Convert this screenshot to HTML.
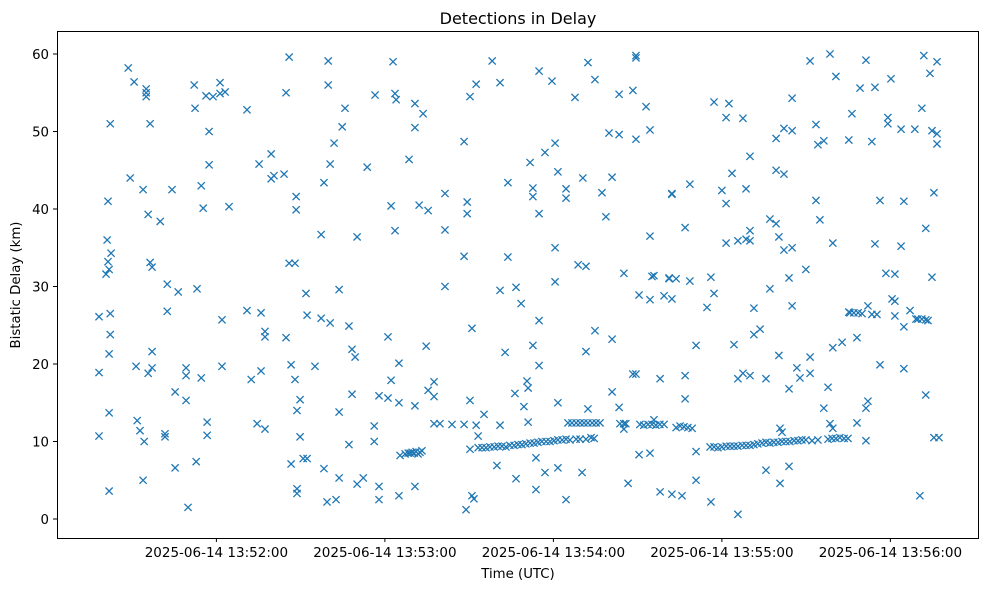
<!DOCTYPE html>
<html><head><meta charset="utf-8"><style>
html,body{margin:0;padding:0;background:#fff;}
svg{display:block;font-family:"DejaVu Sans","Liberation Sans",sans-serif;}
</style></head><body>
<svg id="chart" width="989" height="590" viewBox="0 0 989 590" xmlns="http://www.w3.org/2000/svg">
<rect width="989" height="590" fill="#fff"/>
<text x="518" y="24" text-anchor="middle" font-size="16">Detections in Delay</text>
<text x="518" y="578" text-anchor="middle" font-size="13.3">Time (UTC)</text>
<text x="20" y="285" text-anchor="middle" font-size="13.3" transform="rotate(-90 20 285)">Bistatic Delay (km)</text>
<g id="marks"></g>
<g id="xticks"></g>
<g id="yticks"></g>
<rect x="57.5" y="31.5" width="921" height="507" fill="none" stroke="#000" stroke-width="1"/>
</svg>
<script>
// time in seconds after 2025-06-14 13:49:56.3 UTC
const xTickSeconds = [123.7, 183.7, 243.7, 303.7, 363.7];
const xTickLabels = ["2025-06-14 13:52:00","2025-06-14 13:53:00","2025-06-14 13:54:00","2025-06-14 13:55:00","2025-06-14 13:56:00"];
const yTickValues = [0, 10, 20, 30, 40, 50, 60];
// [time seconds, delay km]
const detections = [
[81.9,18.9],[81.9,26.1],[81.9,10.7],
[84.4,31.6],[84.8,36],[85.1,41],[85.1,33.2],[85.5,32.2],[85.5,21.3],[85.5,13.7],[85.5,3.6],[85.9,26.5],[85.9,23.8],[86.2,34.3],[85.9,51],
[92.3,58.2],[93.0,44],[94.4,56.4],[95.1,19.7],[95.5,12.7],[96.5,11.4],[97.6,42.5],[97.6,5],[98.0,10],[98.7,55.5],[98.7,54.5],[98.7,55],[99.4,18.8],[99.4,39.3],[100.1,51],[100.1,33.1],[100.8,19.5],[100.8,21.6],[100.8,32.5],[103.7,38.4],[105.4,10.6],[105.4,11],[106.2,30.3],[106.2,26.8],[107.9,42.5],[109.0,6.6],[109.0,16.4],[110.1,29.3],[112.9,18.5],[112.9,19.5],[112.9,15.3],[113.6,1.5],[115.8,56],[116.1,53],[116.5,7.4],[116.8,29.7],[118.3,43],[118.3,18.2],[119.0,40.1],[120.0,54.6],[120.4,10.8],[120.4,12.5],[121.1,45.7],[121.1,50],[122.5,54.5],[125.0,56.3],[125.0,54.9],[125.7,19.7],[125.7,25.7],[126.8,55.1],[128.2,40.3],
[134.6,52.8],[134.6,26.9],[136.1,18],[138.2,12.3],[138.9,45.8],[139.6,19.1],[139.6,26.6],[141.0,11.6],[141.0,24.2],[141.0,23.5],[143.2,47.1],[143.2,43.9],[144.2,44.3],[147.8,44.5],[148.5,23.4],[148.5,55],[149.6,59.6],[149.6,33],[150.3,7.1],[150.3,19.9],[151.7,18],[151.7,33],[152.1,41.6],[152.1,39.9],[152.4,3.9],[152.4,3.3],[152.4,14],[153.5,10.6],[153.5,15.4],[154.6,7.8],[155.6,29.1],[156.0,7.8],[156.0,26.3],[158.8,19.7],[161.0,36.7],[161.0,25.9],[162.0,43.4],[162.0,6.5],[163.1,2.2],[163.5,59.1],[163.5,56],[164.2,45.8],[164.2,25.3],[165.6,48.5],[166.3,2.5],[167.4,29.6],[167.4,13.8],[167.4,5.3],[168.5,50.6],[169.5,53],[170.9,9.6],[170.9,24.9],[172.0,21.9],[172.0,16.1],[173.1,20.9],[173.8,36.4],[173.8,4.5],[176.0,5.3],[177.4,45.4],[179.9,12],[179.9,10],[180.2,54.7],[181.6,15.9],[181.6,2.5],[181.6,4.2],[184.8,15.6],[184.8,23.5],[185.9,40.4],[185.9,17.9],[186.6,59],[187.3,54.9],[187.3,37.2],[187.7,54.1],[188.7,20.1],[188.7,15],[188.7,3],[189.1,8.2],
[190.9,8.4],[192.0,8.5],[192.7,8.5],[193.4,8.6],[194.1,8.5],[194.8,8.7],[195.5,8.4],[196.2,8.6],[196.9,8.8],
[192.3,46.4],[194.4,53.6],[194.4,50.5],[194.4,14.6],[194.4,4.2],[195.9,40.5],[197.3,52.3],[198.4,22.3],[199.1,39.8],[199.1,16.6],[201.2,17.7],[201.2,15.8],[201.2,12.3],[203.3,12.3],[205.1,30],[205.1,42],[205.1,37.3],[207.6,12.2],[211.9,12.2],[211.9,48.7],[211.9,33.9],[212.6,1.2],[213.0,39.4],[213.0,40.9],[214.0,15.3],[214.0,54.5],[214.7,24.6],[214.7,3],[215.4,2.6],[216.2,12.1],[216.2,56.1],[216.9,10.7],
[214.0,9.0],[216.9,9.2],[218.3,9.2],[219.7,9.2],[221.1,9.3],[222.6,9.3],[224.0,9.4],[225.4,9.4],[226.8,9.3],[228.2,9.5],[229.7,9.5],[231.1,9.6],[232.5,9.6],[233.9,9.7],[235.4,9.8],[236.8,9.8],[238.2,9.9],[239.6,10.0],[241.1,10.0],[242.5,10.0],[243.9,10.1],[245.3,10.2],[246.8,10.2],[248.2,10.3],[249.6,10.2],[251.8,10.3],[253.2,10.3],[258.2,10.4],
[219.0,13.5],[221.9,59.1],[223.6,6.9],[224.7,56.3],[224.7,12.1],[224.7,29.5],[226.5,21.5],[227.5,43.4],[227.5,33.8],[230.0,16.2],[230.4,29.9],[230.4,5.2],[232.2,27.8],[233.2,14.5],[234.3,17.8],[234.7,12.5],[234.7,16.9],[235.4,46],[236.4,42.7],[236.4,41.6],[236.4,22.4],[237.5,7.9],[237.5,3.8],[238.6,39.4],[238.6,25.6],[238.6,57.8],[238.6,19.8],[240.7,47.3],[240.7,6],[243.2,56.5],[244.3,35],[244.3,30.6],[244.3,48.5],[245.3,15],[245.3,6.6],[245.3,44.8],[248.2,41.4],[248.2,42.6],[248.2,2.5],
[248.9,12.4],[250.3,12.4],[251.8,12.4],[253.2,12.4],[254.6,12.4],[256.0,12.4],[257.5,12.4],[258.9,12.4],[260.3,12.4],
[251.4,54.4],[252.5,32.8],[253.9,6],[254.2,44],[255.3,32.6],[255.3,21.6],[255.3,10.3],[256.0,58.9],[256.0,14.2],[257.1,10.5],[258.5,56.7],[258.5,24.3],[261.0,42.1],[262.4,39],[263.5,49.8],[264.6,16.4],[264.6,23.2],[264.6,44.1],[267.1,54.8],[267.1,49.6],[267.1,14.4],[268.8,31.7],[268.8,11.6],
[267.4,12.3],[268.8,12.3],[269.5,12.3],
[270.3,4.6],[272.0,55.3],[272.0,18.7],[273.1,18.7],[273.1,59.5],[273.1,59.8],[273.1,49],[274.2,28.9],[274.2,8.3],[276.7,53.2],[278.1,28.3],[278.1,36.5],[278.1,50.2],[278.1,8.5],[278.8,31.3],[279.5,31.4],[279.5,12.8],[281.7,18.1],[281.7,3.5],[283.1,28.8],[284.9,31],[284.9,31.1],[285.9,42],[285.9,41.9],[285.9,28.4],[285.9,3.2],[287.4,31],[289.5,3],[290.6,37.6],[290.6,15.5],[290.6,18.5],[292.3,30.7],[292.3,43.2],[294.5,8.7],[294.5,5],[294.5,22.4],
[274.5,12.2],[275.9,12.1],[277.4,12.2],[278.8,12.2],[280.2,12.1],[281.6,12.2],[283.1,12.2],
[287.4,11.8],[288.8,12.0],[290.2,11.9],[291.6,11.8],[293.1,11.7],
[298.4,27.3],[299.8,31.2],[299.8,2.2],[300.9,53.8],[300.9,29.1],[303.7,42.4],[305.2,51.8],[305.2,35.6],[305.2,40.7],[306.2,53.6],[307.3,44.6],[308.0,22.5],[309.4,35.9],[309.4,18.1],[309.4,0.6],[311.2,51.7],[311.2,18.8],[312.3,36.1],[312.3,42.6],[313.7,35.9],[313.7,37.2],[313.7,46.8],[313.7,18.5],[315.1,23.8],[315.1,27.2],[317.3,24.5],[319.4,6.3],[319.4,18.1],[320.8,29.7],[320.8,38.7],[323.0,49.1],[323.0,38.1],[323.0,45],[324.0,36.4],[324.0,21.1],[324.4,11.7],[324.4,4.6],[325.1,11.2],[325.8,44.5],[325.8,50.4],[325.8,34.7],[327.6,31.1],[327.6,6.8],[327.6,16.8],[328.7,54.3],[328.7,35],[328.7,50.1],[328.7,27.5],[330.4,19.5],[331.5,18.2],[333.6,32.2],[335.1,59.1],[335.1,20.9],[335.1,18.8],[337.2,41.1],[337.2,50.9],[337.9,48.3],[338.6,38.6],[340.0,48.8],[340.0,14.3],[341.5,17],[342.2,60],[342.2,12.3],[343.2,35.6],[343.2,11.7],[343.2,22.1],[344.3,57.1],[346.5,22.8],
[299.5,9.3],[300.9,9.3],[302.3,9.2],[303.7,9.3],[305.2,9.4],[306.6,9.4],[308.0,9.4],[309.4,9.4],[310.9,9.5],[312.3,9.5],[313.7,9.5],[315.1,9.6],[316.5,9.7],[318.0,9.8],[319.4,9.9],[320.8,9.8],[322.2,9.9],[323.7,9.9],[325.1,10.0],[326.5,10.0],[327.9,10.0],[329.4,10.1],[330.8,10.1],[332.2,10.2],[333.6,10.2],[335.8,10.1],[337.9,10.2],[341.5,10.3],[342.9,10.4],[344.3,10.4],[345.7,10.5],[347.2,10.4],[348.6,10.4],
[348.9,48.9],[348.9,26.7],[350.0,52.3],[349.3,26.6],[350.7,26.6],[352.2,26.6],[353.6,26.5],[351.8,23.4],[351.8,12.4],[352.9,55.6],[355.0,14.3],[355.0,10.1],[355.0,59.2],[355.7,27.5],[355.7,15.2],[357.1,48.7],[357.1,26.4],[358.2,55.7],[358.2,35.5],[358.9,26.4],[360.0,19.9],[360.0,41.1],[362.1,31.7],[362.8,51.8],[362.8,51],[363.9,56.8],[364.3,28.4],[365.3,28.1],[365.3,31.6],[365.3,26.2],[367.5,50.3],[367.5,35.2],[368.5,41],[368.5,19.4],[368.5,24.8],[370.7,26.9],[372.4,50.3],[372.8,25.8],[373.5,25.8],[374.9,25.8],[376.3,25.7],[374.2,3],[374.9,53],[375.6,59.8],[376.3,37.5],[376.3,16],[377.1,25.6],[377.8,57.5],[378.5,31.2],[378.5,50.1],[379.2,42.1],[379.2,10.5],[380.3,49.7],[380.3,48.4],[380.3,59],[381.0,10.5]
];
const NS='http://www.w3.org/2000/svg';
const xS = t => 206 + (t-120)*168.5/60;
const yS = d => 519 - d*7.75;
const marks=document.getElementById('marks');
detections.forEach(p=>{
  const cx=xS(p[0]), cy=yS(p[1]), r=3.6;
  const path=document.createElementNS(NS,'path');
  path.setAttribute('d',`M${cx-r},${cy-r}L${cx+r},${cy+r}M${cx-r},${cy+r}L${cx+r},${cy-r}`);
  path.setAttribute('stroke','#1f77b4');path.setAttribute('stroke-width','1.3');path.setAttribute('fill','none');
  
  
  marks.appendChild(path);
});
const xg=document.getElementById('xticks');
xTickSeconds.forEach((t,i)=>{
  const x=xS(t);
  const l=document.createElementNS(NS,'line');
  l.setAttribute('x1',x);l.setAttribute('x2',x);l.setAttribute('y1',538);l.setAttribute('y2',542);l.setAttribute('stroke','#000');
  
  
  xg.appendChild(l);
  const tx=document.createElementNS(NS,'text');
  tx.setAttribute('x',x);tx.setAttribute('y',557);tx.setAttribute('text-anchor','middle');tx.setAttribute('font-size','13.5');
  tx.textContent=xTickLabels[i];
  
  
  xg.appendChild(tx);
});
const yg=document.getElementById('yticks');
yTickValues.forEach(v=>{
  const y=yS(v);
  const l=document.createElementNS(NS,'line');
  l.setAttribute('x1',53);l.setAttribute('x2',57);l.setAttribute('y1',y);l.setAttribute('y2',y);l.setAttribute('stroke','#000');
  
  
  yg.appendChild(l);
  const tx=document.createElementNS(NS,'text');
  tx.setAttribute('x',49);tx.setAttribute('y',y+5);tx.setAttribute('text-anchor','end');tx.setAttribute('font-size','13.3');
  tx.textContent=String(v);
  
  
  yg.appendChild(tx);
});
</script>
</body></html>
